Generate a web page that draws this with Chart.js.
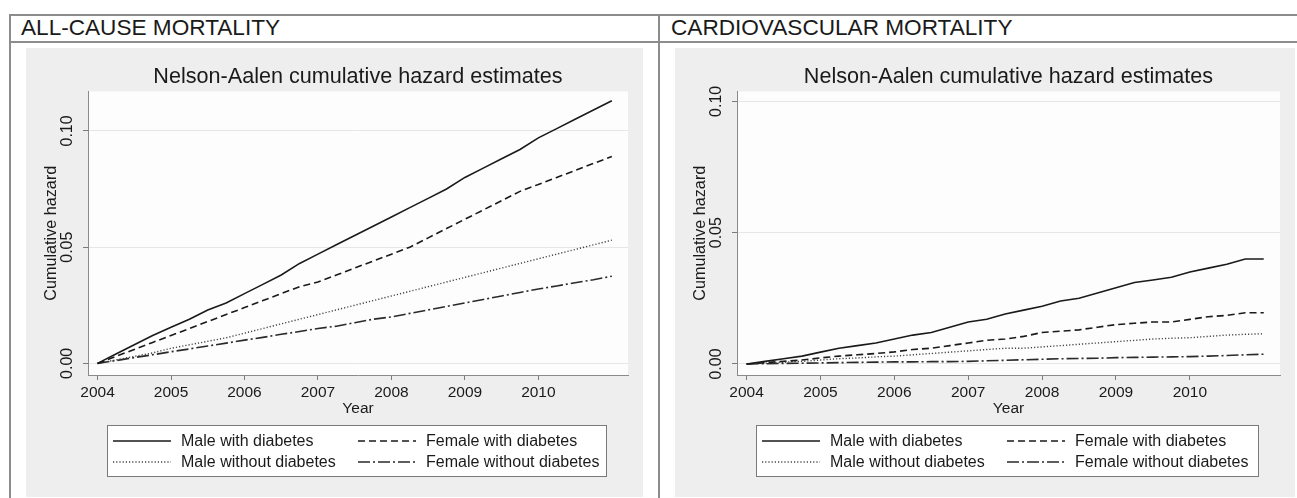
<!DOCTYPE html>
<html>
<head>
<meta charset="utf-8">
<script src="https://cdn.jsdelivr.net/npm/chart.js@4.4.1/dist/chart.umd.min.js"></script>
<style>
  html, body { margin: 0; padding: 0; background: #fff; }
  body { width: 1297px; height: 498px; position: relative; overflow: hidden; font-family: "Liberation Sans", Arial, sans-serif; }
  .rule { position: absolute; background: #8c8c8c; }
  .head { position: absolute; top: 15px; font-size: 22.6px; line-height: 26px; color: #1a1a1a; white-space: nowrap; }
  canvas { position: absolute; top: 48px; background: #eeeeee; }
</style>
</head>
<body>
<div class="rule" style="left:9px; top:14px; width:1288px; height:2px"></div>
<div class="rule" style="left:9px; top:41px; width:1288px; height:2px"></div>
<div class="rule" style="left:9px; top:14px; width:2px; height:484px"></div>
<div class="rule" style="left:658px; top:14px; width:2px; height:484px"></div>
<div class="head" style="left:21px">ALL-CAUSE MORTALITY</div>
<div class="head" style="left:671px">CARDIOVASCULAR MORTALITY</div>
<canvas id="allCauseChart" width="617" height="449" style="left:26px"></canvas>
<canvas id="cardioChart" width="620" height="449" style="left:675px"></canvas>
<script>
// time points (years)
const years = [2004, 2004.25, 2004.5, 2004.75, 2005, 2005.25, 2005.5, 2005.75,
               2006, 2006.25, 2006.5, 2006.75, 2007, 2007.25, 2007.5, 2007.75,
               2008, 2008.25, 2008.5, 2008.75, 2009, 2009.25, 2009.5, 2009.75,
               2010, 2010.25, 2010.5, 2010.75, 2011];
const xTicks = [2004, 2005, 2006, 2007, 2008, 2009, 2010];
const yTicks = [0, 0.05, 0.10];
const groups = ["Male with diabetes", "Female with diabetes", "Male without diabetes", "Female without diabetes"];

// All-cause mortality
const allMaleDiab   = [0, 0.004, 0.008, 0.012, 0.0155, 0.019, 0.023, 0.026, 0.030, 0.034, 0.038, 0.043, 0.047, 0.051, 0.055, 0.059,
                       0.063, 0.067, 0.071, 0.075, 0.080, 0.084, 0.088, 0.092, 0.097, 0.101, 0.105, 0.109, 0.113];
const allFemaleDiab = [0, 0.003, 0.006, 0.009, 0.012, 0.015, 0.018, 0.021, 0.024, 0.027, 0.030, 0.033, 0.035, 0.038, 0.041, 0.044,
                       0.047, 0.050, 0.054, 0.058, 0.062, 0.066, 0.070, 0.074, 0.077, 0.080, 0.083, 0.086, 0.089];
const allMaleNoDiab = [0, 0.0015, 0.003, 0.0045, 0.0065, 0.008, 0.0095, 0.011, 0.013, 0.015, 0.017, 0.019, 0.021, 0.023, 0.025, 0.027,
                       0.029, 0.031, 0.033, 0.035, 0.037, 0.039, 0.041, 0.043, 0.045, 0.047, 0.049, 0.051, 0.053];
const allFemaleNoDiab = [0, 0.0012, 0.0025, 0.0037, 0.005, 0.0062, 0.0075, 0.0087, 0.010, 0.0112, 0.0125, 0.0137, 0.015, 0.016, 0.0175, 0.019,
                       0.020, 0.0215, 0.023, 0.0245, 0.026, 0.0275, 0.029, 0.0305, 0.032, 0.0333, 0.0347, 0.036, 0.0375];

// Cardiovascular mortality
const cvMaleDiab    = [0, 0.001, 0.002, 0.003, 0.0045, 0.006, 0.007, 0.008, 0.0095, 0.011, 0.012, 0.014, 0.016, 0.017, 0.019, 0.0205,
                       0.022, 0.024, 0.025, 0.027, 0.029, 0.031, 0.032, 0.033, 0.035, 0.0365, 0.038, 0.040, 0.040];
const cvFemaleDiab  = [0, 0.0005, 0.001, 0.0015, 0.0023, 0.003, 0.0035, 0.004, 0.0046, 0.0055, 0.006, 0.007, 0.008, 0.009, 0.0095, 0.0105,
                       0.012, 0.0125, 0.013, 0.014, 0.015, 0.0155, 0.016, 0.016, 0.017, 0.018, 0.0185, 0.0195, 0.0195];
const cvMaleNoDiab  = [0, 0.0003, 0.0007, 0.001, 0.0015, 0.002, 0.0023, 0.0027, 0.003, 0.0035, 0.004, 0.0045, 0.005, 0.0055, 0.006, 0.006,
                       0.0065, 0.007, 0.0075, 0.008, 0.0085, 0.009, 0.0095, 0.0098, 0.010, 0.0105, 0.011, 0.0113, 0.0115];
const cvFemaleNoDiab = [0, 0.0001, 0.0002, 0.0003, 0.0004, 0.0005, 0.0006, 0.0007, 0.0008, 0.0008, 0.0009, 0.0009, 0.001, 0.0012, 0.0014, 0.0016,
                       0.0018, 0.002, 0.0021, 0.0022, 0.0024, 0.0025, 0.0026, 0.0027, 0.0028, 0.003, 0.0032, 0.0035, 0.0037];

Chart.defaults.font.family = '"Liberation Sans", Arial, sans-serif';
Chart.defaults.color = '#1a1a1a';

// line look per group: solid, dashed, dotted, dash-dot
const lineStyles = [
    { color: '#1a1a1a', width: 1.6, dash: [] },
    { color: '#1a1a1a', width: 1.6, dash: [7, 4] },
    { color: '#444444', width: 1.4, dash: [1.2, 2] },
    { color: '#2a2a2a', width: 1.6, dash: [12, 3, 2, 3] }
];

// white plot region inside the grey graph region
const plotFill = {
    id: 'plotFill',
    beforeDraw(chart) {
        const { ctx, chartArea: a } = chart;
        ctx.save();
        ctx.fillStyle = '#fdfdfd';
        ctx.fillRect(a.left, a.top, a.right - a.left, a.bottom - a.top);
        ctx.restore();
    }
};

// boxed two-column legend under the x axis
const boxLegend = {
    id: 'boxLegend',
    afterDraw(chart) {
        const ctx = chart.ctx, a = chart.chartArea;
        const left = a.left + 19, right = a.right - 21;
        const top = a.bottom + 50, bottom = top + 52;
        ctx.save();
        ctx.fillStyle = '#ffffff';
        ctx.fillRect(left, top, right - left, bottom - top);
        ctx.strokeStyle = '#7a7a7a';
        ctx.lineWidth = 1;
        ctx.strokeRect(left + 0.5, top + 0.5, right - left - 1, bottom - top - 1);
        chart.data.datasets.forEach((ds, i) => {
            const col = i % 2, row = Math.floor(i / 2);
            const x0 = left + (col ? 251 : 6);
            const y = top + 16 + row * 21;
            ctx.strokeStyle = ds.borderColor;
            ctx.lineWidth = ds.borderWidth;
            ctx.setLineDash(ds.borderDash);
            ctx.beginPath();
            ctx.moveTo(x0, y);
            ctx.lineTo(x0 + 58, y);
            ctx.stroke();
            ctx.setLineDash([]);
            ctx.fillStyle = '#1a1a1a';
            ctx.font = '16px "Liberation Sans", Arial, sans-serif';
            ctx.textBaseline = 'middle';
            ctx.fillText(ds.label, x0 + 68, y + 1);
        });
        ctx.restore();
    }
};

function makeChart(canvasId, series, yMin, yMax) {
    return new Chart(document.getElementById(canvasId), {
        type: 'line',
        data: {
            datasets: series.map((vals, i) => ({
                label: groups[i],
                data: years.map((t, k) => ({ x: t, y: vals[k] })),
                borderColor: lineStyles[i].color,
                borderWidth: lineStyles[i].width,
                borderDash: lineStyles[i].dash,
                pointRadius: 0,
                tension: 0,
                fill: false
            }))
        },
        options: {
            responsive: false,
            animation: false,
            devicePixelRatio: 1,
            layout: { padding: { left: 0, right: 15, top: 0, bottom: 79 } },
            plugins: {
                legend: { display: false },
                tooltip: { enabled: false },
                title: {
                    display: true,
                    text: 'Nelson-Aalen cumulative hazard estimates',
                    fullSize: false,
                    color: '#1a1a1a',
                    font: { size: 21.6, weight: 'normal' },
                    padding: { top: 16, bottom: 1.5 }
                }
            },
            scales: {
                x: {
                    type: 'linear',
                    min: 2003.87,
                    max: 2011.22,
                    afterBuildTicks: s => { s.ticks = xTicks.map(v => ({ value: v })); },
                    afterFit: s => { s.height = 43; },
                    ticks: { callback: v => String(v), font: { size: 15.5 }, color: '#1a1a1a', padding: 3, minRotation: 0, maxRotation: 0 },
                    grid: { drawOnChartArea: false, tickLength: 5, tickColor: '#7a7a7a' },
                    border: { color: '#8a8a8a', width: 1 },
                    title: { display: true, text: 'Year', font: { size: 15.5 }, color: '#1a1a1a', padding: 0 }
                },
                y: {
                    min: yMin,
                    max: yMax,
                    afterBuildTicks: s => { s.ticks = yTicks.map(v => ({ value: v })); },
                    afterFit: s => { s.width = 62; },
                    ticks: { callback: v => v.toFixed(2), minRotation: 90, maxRotation: 90, crossAlign: 'center', padding: 0, font: { size: 16 }, color: '#1a1a1a' },
                    grid: { color: '#e6e6e6', tickLength: 5, tickColor: '#7a7a7a' },
                    border: { color: '#8a8a8a', width: 1 },
                    title: { display: true, text: 'Cumulative hazard', font: { size: 16.2 }, color: '#1a1a1a', padding: { top: 16, bottom: 0 } }
                }
            }
        },
        plugins: [plotFill, boxLegend]
    });
}

makeChart('allCauseChart', [allMaleDiab, allFemaleDiab, allMaleNoDiab, allFemaleNoDiab], -0.005, 0.117);
makeChart('cardioChart', [cvMaleDiab, cvFemaleDiab, cvMaleNoDiab, cvFemaleNoDiab], -0.0042, 0.1038);
</script>
</body>
</html>
